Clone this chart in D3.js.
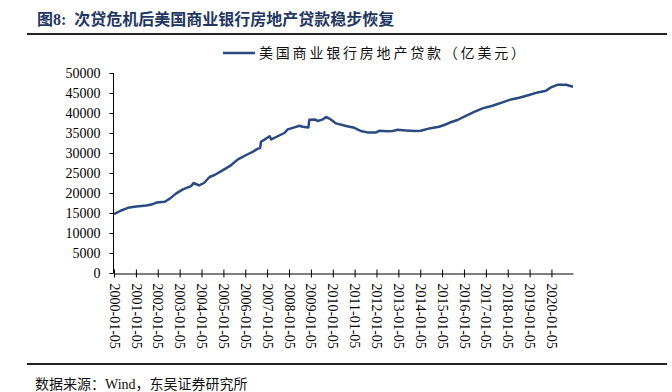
<!DOCTYPE html>
<html>
<head>
<meta charset="utf-8">
<script src="https://cdn.jsdelivr.net/npm/d3@7"></script>
<style>
  body { margin: 0; background: #fff; }
  svg { display: block; }
</style>
</head>
<body>
<svg id="chart" width="672" height="392"></svg>
<script>
// data
var dates = ['2000-01-05','2000-04-15','2000-08-25','2001-01-10','2001-07-01','2001-09-20','2001-12-15',
  '2002-05-01','2002-07-25','2002-11-10','2003-03-01','2003-07-15','2003-08-25','2003-11-25','2004-02-15',
  '2004-05-20','2004-08-10','2004-12-28','2005-04-20','2005-09-05','2006-01-20','2006-05-10','2006-08-05',
  '2006-09-10','2006-09-25','2006-12-20','2007-02-15','2007-03-15','2007-06-05','2007-10-20','2007-12-15',
  '2008-04-05','2008-06-28','2008-08-20','2008-11-25','2008-12-10','2009-03-05','2009-05-01','2009-07-22',
  '2009-09-15','2009-11-10','2010-01-05','2010-03-01','2010-08-15','2011-01-01','2011-04-20','2011-08-05',
  '2011-12-28','2012-02-20','2012-07-10','2012-10-01','2012-12-25','2013-05-10','2013-10-20','2014-01-15',
  '2014-06-05','2014-11-15','2015-02-10','2015-05-05','2015-09-20','2016-02-05','2016-06-25','2016-11-10',
  '2017-04-25','2017-10-10','2018-03-01','2018-07-15','2018-12-28','2019-05-20','2019-10-05','2019-12-28',
  '2020-04-15','2020-09-05','2020-12-30'];
var loans = [14700,15500,16300,16600,16900,17100,17600,
  17800,18600,19900,20900,21700,22500,21900,22500,
  24000,24500,25700,26700,28400,29500,30300,31100,
  31250,32800,33600,34200,33400,34000,35000,35900,
  36400,36800,36550,36400,38300,38400,38000,38400,
  39000,38600,38000,37400,36750,36300,35500,35150,
  35150,35550,35450,35500,35800,35650,35500,35550,
  36150,36550,37000,37550,38250,39300,40300,41150,
  41800,42650,43400,43800,44500,45150,45550,46400,
  47050,47050,46550];
var yTicks = [0,5000,10000,15000,20000,25000,30000,35000,40000,45000,50000];
var xTickLabels = ['2000-01-05','2001-01-05','2002-01-05','2003-01-05','2004-01-05','2005-01-05',
  '2006-01-05','2007-01-05','2008-01-05','2009-01-05','2010-01-05','2011-01-05','2012-01-05',
  '2013-01-05','2014-01-05','2015-01-05','2016-01-05','2017-01-05','2018-01-05','2019-01-05','2020-01-05'];
var title = '图8:  次贷危机后美国商业银行房地产贷款稳步恢复';
var seriesName = '美国商业银行房地产贷款（亿美元）';
var source = '数据来源：Wind，东吴证券研究所';

var parse = d3.timeParse('%Y-%m-%d');
var blue = '#2b4a80';
var serif = '"Liberation Serif", "Times New Roman", "Noto Sans CJK SC", serif';
var cjk = '"Liberation Serif", "Noto Sans CJK SC", serif';

var svg = d3.select('#chart');

var x = d3.scaleTime()
    .domain([parse('2000-01-05'), parse('2020-12-30')])
    .range([114, 573]);
var y = d3.scaleLinear()
    .domain([0, 50000])
    .range([273, 73]);

// title + rules
svg.append('text')
    .attr('x', 37).attr('y', 25)
    .attr('font-family', cjk)
    .attr('font-size', 16)
    .attr('font-weight', 'bold')
    .attr('fill', '#1f3763')
    .style('white-space', 'pre')
    .text(title);
svg.append('line')
    .attr('x1', 27).attr('x2', 667).attr('y1', 34).attr('y2', 34)
    .attr('stroke', '#222').attr('stroke-width', 2);
svg.append('line')
    .attr('x1', 27).attr('x2', 667).attr('y1', 364).attr('y2', 364)
    .attr('stroke', '#222').attr('stroke-width', 2);

// legend
svg.append('line')
    .attr('x1', 223).attr('x2', 255).attr('y1', 53).attr('y2', 53)
    .attr('stroke', blue).attr('stroke-width', 2.5);
svg.append('text')
    .attr('x', 259).attr('y', 58)
    .attr('font-family', cjk)
    .attr('font-size', 14)
    .attr('letter-spacing', 2.8)
    .attr('fill', '#111')
    .text(seriesName);

// y axis
var yAxis = svg.append('g')
    .attr('transform', 'translate(113.5,0)')
    .call(d3.axisLeft(y).tickValues(yTicks).tickSize(4).tickPadding(9).tickFormat(d3.format('d')));
yAxis.select('.domain').attr('d', 'M0,' + y(50000) + 'V' + y(0));
yAxis.selectAll('text').attr('font-family', serif).attr('font-size', 14).attr('fill', '#000');

// x axis
var xTicks = xTickLabels.map(parse);
var xAxis = svg.append('g')
    .attr('transform', 'translate(0,273.5)')
    .call(d3.axisBottom(x).tickValues(xTicks).tickSize(4).tickSizeOuter(0)
        .tickFormat(d3.timeFormat('%Y-%m-%d')));
xAxis.selectAll('.tick line').attr('y1', -4);
xAxis.selectAll('text')
    .attr('font-family', serif).attr('font-size', 14).attr('fill', '#000')
    .attr('transform', 'rotate(90)')
    .attr('x', 10).attr('y', 0)
    .attr('dy', '0.35em')
    .attr('text-anchor', 'start');

// series
var points = dates.map(function(d, i) { return { date: parse(d), value: loans[i] }; });
svg.append('path')
    .datum(points)
    .attr('fill', 'none')
    .attr('stroke', blue)
    .attr('stroke-width', 2.5)
    .attr('stroke-linejoin', 'round')
    .attr('d', d3.line()
        .x(function(d) { return x(d.date); })
        .y(function(d) { return y(d.value); }));

// source
svg.append('text')
    .attr('x', 35).attr('y', 389)
    .attr('font-family', cjk)
    .attr('font-size', 14)
    .attr('fill', '#111')
    .text(source);
</script>
</body>
</html>
